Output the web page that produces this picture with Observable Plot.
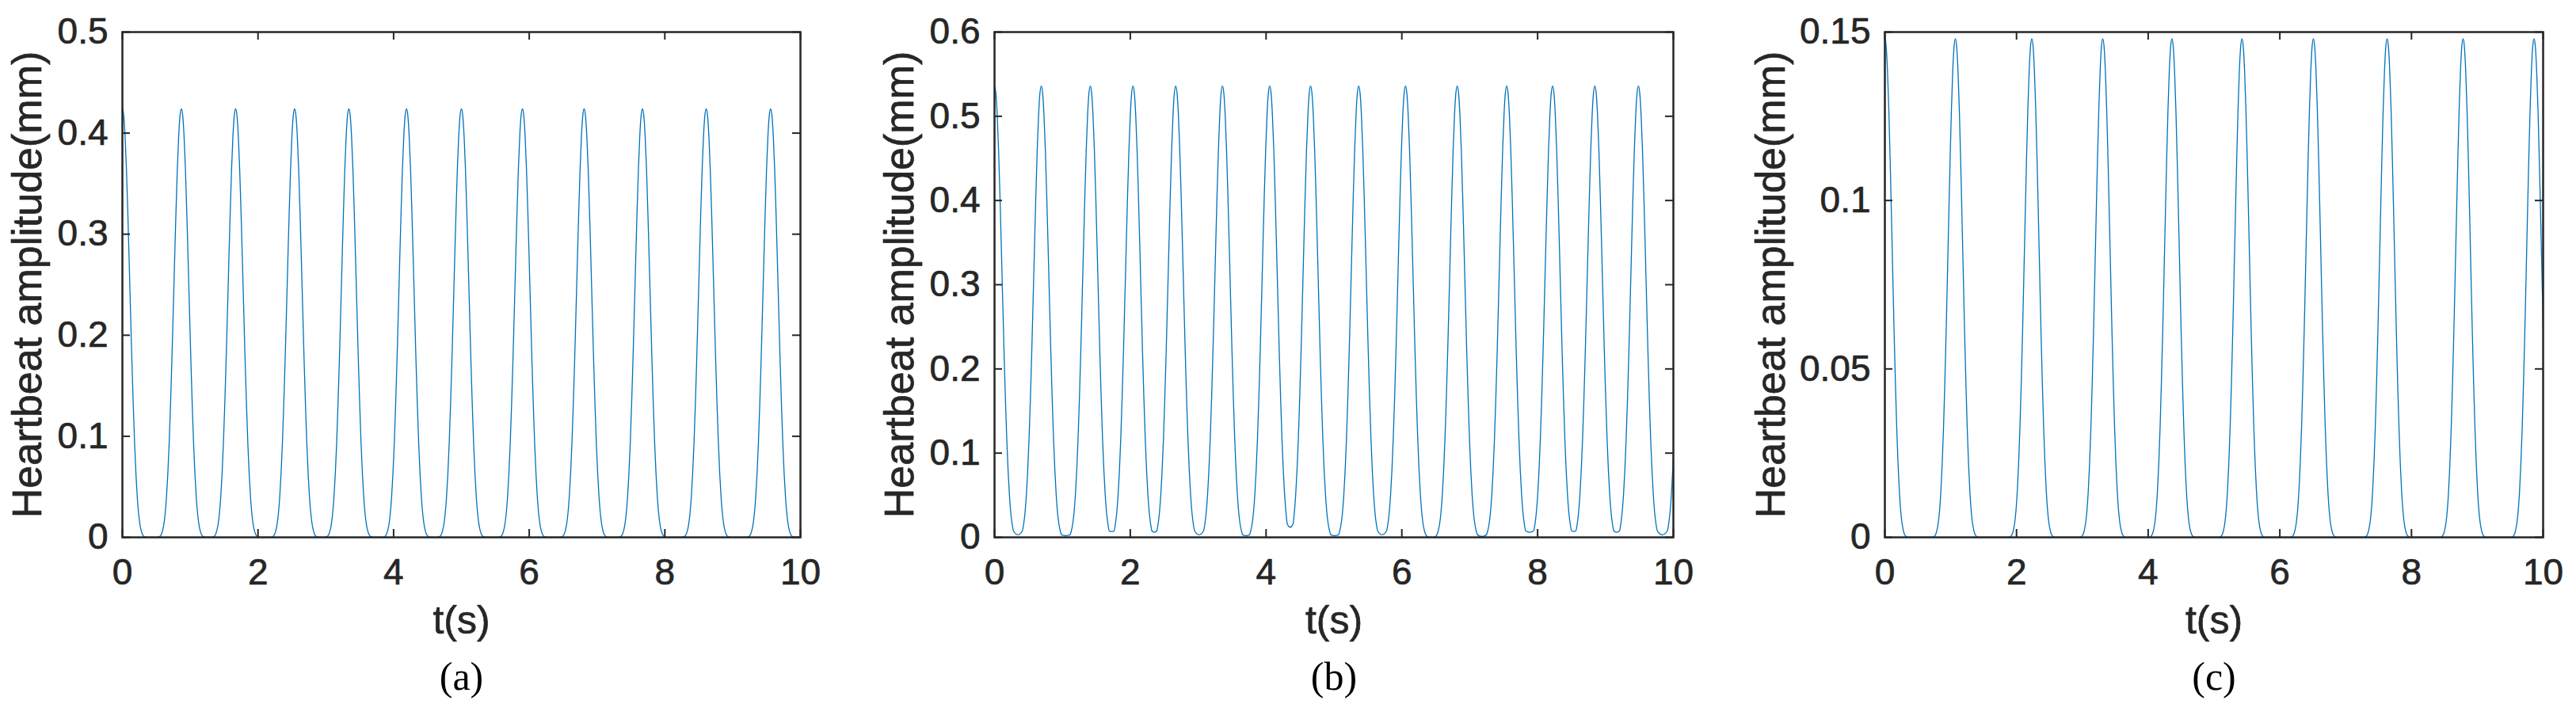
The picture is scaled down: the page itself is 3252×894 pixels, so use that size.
<!DOCTYPE html>
<html>
<head>
<meta charset="utf-8">
<script src="https://cdn.jsdelivr.net/npm/d3@7"></script>
<script src="https://cdn.jsdelivr.net/npm/@observablehq/plot@0.6"></script>
<style>
  body { margin: 0; background: #fff; }
  #fig { position: relative; width: 3252px; height: 894px; background: #fff; overflow: hidden; }
  .panel { position: absolute; top: 0; }
</style>
</head>
<body>
<div id="fig"></div>
<script>
// ---- text ----
const xLabel = "t(s)";
const yLabel = "Heartbeat amplitude(mm)";
const captions = ["(a)", "(b)", "(c)"];

// ---- ticks ----
const xTicks = [0, 2, 4, 6, 8, 10];
const xTickLabels = ["0", "2", "4", "6", "8", "10"];
const yTicksA = [0, 0.1, 0.2, 0.3, 0.4, 0.5];
const yTickLabelsA = ["0", "0.1", "0.2", "0.3", "0.4", "0.5"];
const yTicksB = [0, 0.1, 0.2, 0.3, 0.4, 0.5, 0.6];
const yTickLabelsB = ["0", "0.1", "0.2", "0.3", "0.4", "0.5", "0.6"];
const yTicksC = [0, 0.05, 0.1, 0.15];
const yTickLabelsC = ["0", "0.05", "0.1", "0.15"];

// ---- series values ----
// peak times (s), peak amplitude (mm), trough values between successive peaks (mm)
const peaksA = [0, 0.87, 1.67, 2.54, 3.34, 4.19, 5.00, 5.90, 6.81, 7.67, 8.61, 9.56];
const ampA = 0.424;
const troughsA = [0, 0, 0, 0, 0, 0, 0, 0, 0, 0, 0];

const peaksB = [0, 0.689, 1.411, 2.040, 2.669, 3.358, 4.054, 4.656, 5.365, 6.054, 6.816, 7.545, 8.221, 8.843, 9.485, 10.19];
const ampB = 0.536;
const troughsB = [0.003, 0.002, 0.007, 0.006, 0.003, 0.002, 0.012, 0.002, 0.003, 0.0, 0.001, 0.006, 0.007, 0.006, 0.003];

const peaksC = [0, 1.071, 2.232, 3.310, 4.361, 5.425, 6.510, 7.630, 8.784, 9.862];
const ampC = 0.148;
const troughsC = [0, 0, 0, 0, 0, 0, 0, 0, 0];

// pulse shape: time from peak (s) and fraction of peak height
const profileDt   = [0, 0.02, 0.04, 0.06, 0.08, 0.10, 0.12, 0.14, 0.16, 0.18, 0.20, 0.22, 0.24, 0.26, 0.28, 0.30, 0.33, 0.36];
const profileFrac = [1, 0.984, 0.935, 0.858, 0.758, 0.645, 0.528, 0.413, 0.31, 0.22, 0.148, 0.093, 0.054, 0.029, 0.014, 0.0055, 0.001, 0];

function buildSeries(peaks, amp, troughs) {
  const pts = [];
  peaks.forEach((p, i) => {
    const prevHalf = i > 0 ? (p - peaks[i - 1]) / 2 : Infinity;
    const nextHalf = i < peaks.length - 1 ? (peaks[i + 1] - p) / 2 : Infinity;
    const trL = i > 0 ? troughs[i - 1] : 0;
    const trR = i < peaks.length - 1 ? troughs[i] : 0;
    for (let k = profileDt.length - 1; k > 0; k--) {
      const v = amp * profileFrac[k];
      if (profileDt[k] < prevHalf - 0.015 && v >= trL) pts.push({t: p - profileDt[k], v});
    }
    pts.push({t: p, v: amp});
    for (let k = 1; k < profileDt.length; k++) {
      const v = amp * profileFrac[k];
      if (profileDt[k] < nextHalf - 0.015 && v >= trR) pts.push({t: p + profileDt[k], v});
    }
    if (i < peaks.length - 1) pts.push({t: (p + peaks[i + 1]) / 2, v: troughs[i]});
  });
  return pts;
}

const INK = "#262626";
const SANS = "'Liberation Sans', Arial, Helvetica, sans-serif";
const SERIF = "'Liberation Serif', 'Times New Roman', serif";
const TOP = 40, BOTTOM = 678, H = 894;
const heavy = {stroke: INK, strokeWidth: 0.7};

function panel(cfg) {
  const innerH = BOTTOM - TOP;
  const innerW = cfg.width - cfg.ml - cfg.mr;
  const tick = 10;
  const xFmt = new Map(xTicks.map((v, i) => [v, xTickLabels[i]]));
  const yFmt = new Map(cfg.yTicks.map((v, i) => [v, cfg.yLabels[i]]));
  const tickStyle = {stroke: INK, strokeWidth: 2};
  return Plot.plot({
    width: cfg.width,
    height: H,
    marginLeft: cfg.ml,
    marginRight: cfg.mr,
    marginTop: TOP,
    marginBottom: H - BOTTOM,
    x: {domain: [0, 10]},
    y: {domain: cfg.yDomain},
    style: {fontFamily: SANS, color: INK, background: "transparent", overflow: "visible"},
    marks: [
      Plot.lineY(cfg.data, {x: "t", y: "v", stroke: "#0072BD", strokeWidth: 1.3, curve: "monotone-x", clip: true}),
      Plot.tickX(xTicks, {x: d => d, insetTop: innerH - tick, ...tickStyle}),
      Plot.tickX(xTicks, {x: d => d, insetBottom: innerH - tick, ...tickStyle}),
      Plot.tickY(cfg.yTicks, {y: d => d, insetRight: innerW - tick, ...tickStyle}),
      Plot.tickY(cfg.yTicks, {y: d => d, insetLeft: innerW - tick, ...tickStyle}),
      Plot.frame({stroke: INK, strokeWidth: 2.5}),
      Plot.axisX(xTicks, {tickSize: 0, tickPadding: 27, fontSize: 46, tickFormat: d => xFmt.get(d), fill: INK, label: null, textStroke: INK, textStrokeWidth: 0.7}),
      Plot.axisY(cfg.yTicks, {tickSize: 0, tickPadding: 18, fontSize: 46, tickFormat: d => yFmt.get(d), fill: INK, label: null, textStroke: INK, textStrokeWidth: 0.7}),
      Plot.text([xLabel], {text: d => d, frameAnchor: "bottom", dy: 121.5, lineAnchor: "bottom", fontSize: 50, fill: INK, ...heavy}),
      Plot.text([cfg.caption], {text: d => d, frameAnchor: "bottom", dy: 192, lineAnchor: "bottom", fontSize: 50, fontFamily: SERIF, fill: "#000"}),
      Plot.text([yLabel], {text: d => d, frameAnchor: "left", dx: cfg.yLabelDx, rotate: -90, lineAnchor: "middle", textAnchor: "middle", fontSize: 52, fill: INK, ...heavy})
    ]
  });
}

const panels = [
  {left: 0,    width: 1100, ml: 154, mr: 90, yDomain: [0, 0.5],  yTicks: yTicksA, yLabels: yTickLabelsA, data: buildSeries(peaksA, ampA, troughsA), caption: captions[0], yLabelDx: -119},
  {left: 1100, width: 1100, ml: 155, mr: 88, yDomain: [0, 0.6],  yTicks: yTicksB, yLabels: yTickLabelsB, data: buildSeries(peaksB, ampB, troughsB), caption: captions[1], yLabelDx: -119},
  {left: 2200, width: 1052, ml: 179, mr: 42, yDomain: [0, 0.15], yTicks: yTicksC, yLabels: yTickLabelsC, data: buildSeries(peaksC, ampC, troughsC), caption: captions[2], yLabelDx: -143}
];

const fig = document.getElementById("fig");
for (const cfg of panels) {
  const div = document.createElement("div");
  div.className = "panel";
  div.style.left = cfg.left + "px";
  const svg = panel(cfg);
  // give axis tick labels the same slight weight as the reference
  svg.querySelectorAll('g[aria-label$="tick label"]').forEach(g => {
    g.setAttribute("stroke", INK);
    g.setAttribute("stroke-width", "0.7");
  });
  div.appendChild(svg);
  fig.appendChild(div);
}
</script>
</body>
</html>
